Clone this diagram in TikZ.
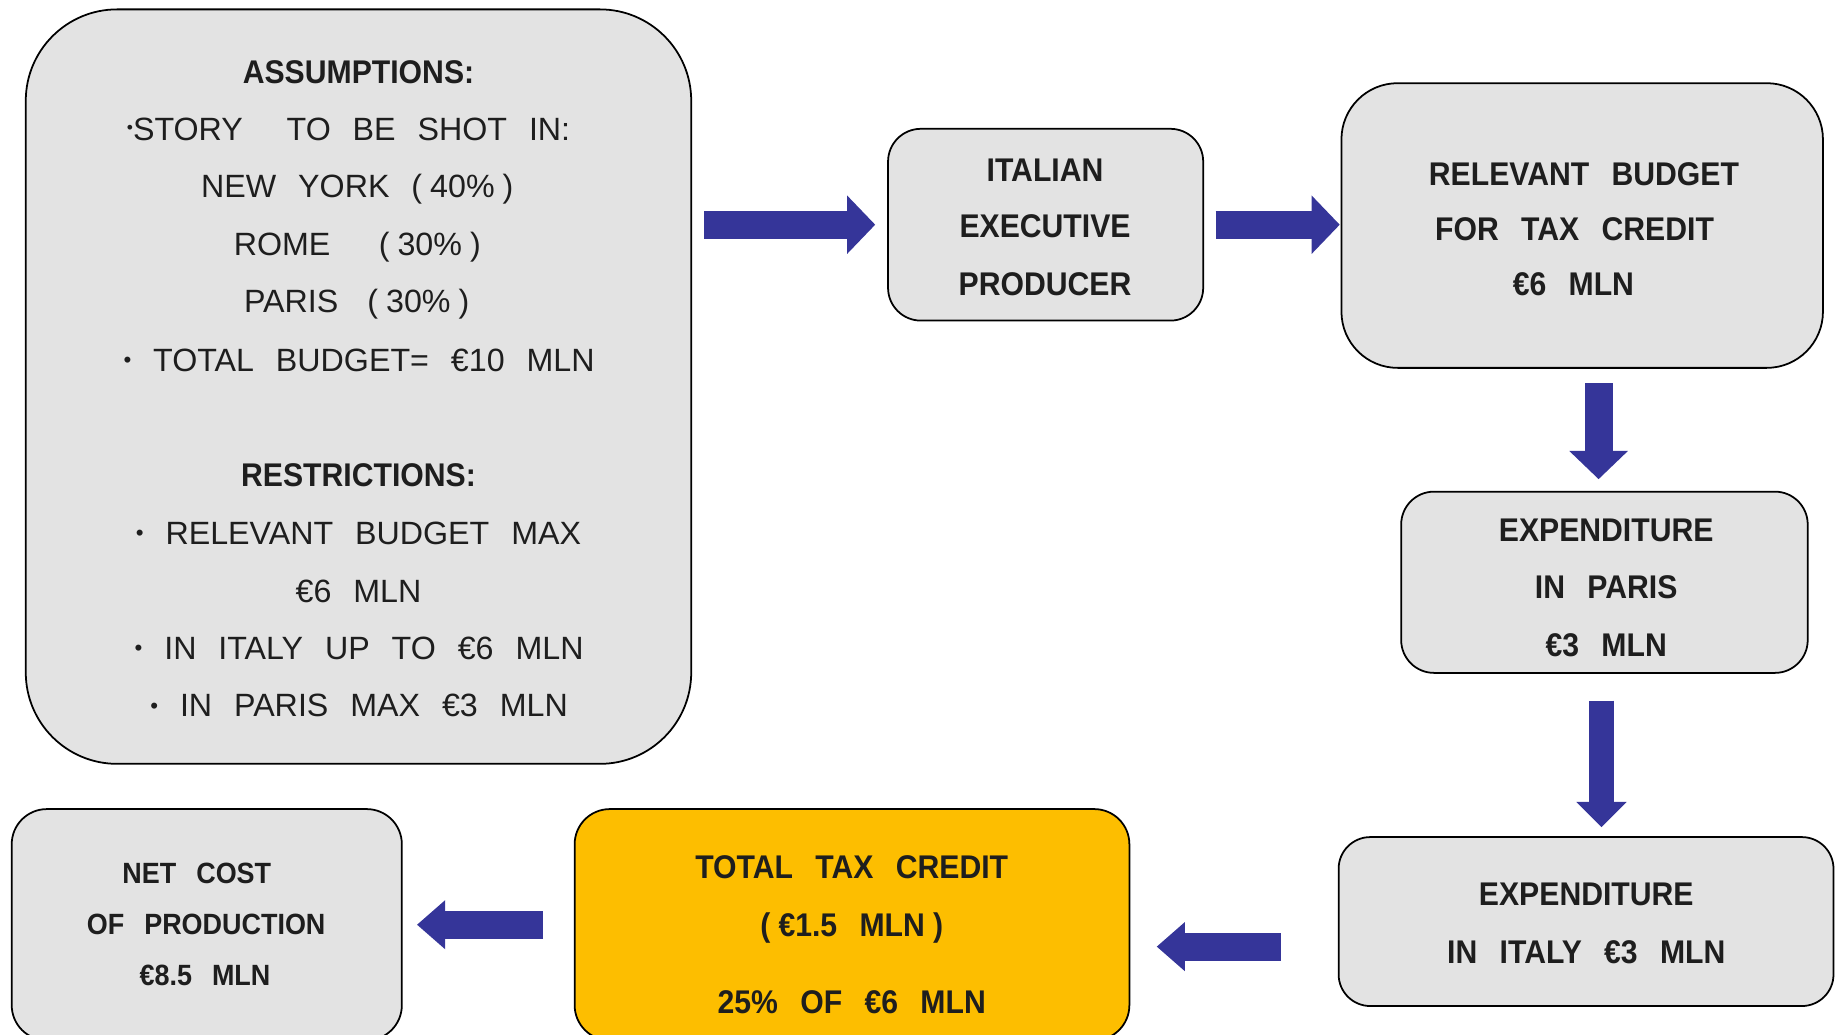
\documentclass[tikz,border=0pt]{standalone}
\usepackage{fontspec}
\setmainfont{Liberation Sans}
\newfontfamily\bfam[FakeStretch=0.92]{Liberation Sans}
\usetikzlibrary{arrows.meta,calc}
\definecolor{boxgray}{HTML}{E3E3E3}
\definecolor{arrowblue}{HTML}{353599}
\definecolor{gold}{HTML}{FDBE00}
\definecolor{ink}{HTML}{1E1E1E}
\newcommand\gp{\hspace{0.68em}}
\newcommand\hs{\hspace{0.25em}}
\newcommand\bul{\raisebox{3.2pt}{\fontsize{19}{19}\selectfont •}}
\newcommand\bulhi{\raisebox{6pt}{\fontsize{15}{15}\selectfont •}}
\begin{document}
\begin{tikzpicture}[x=1pt,y=-1pt,
 box/.style={draw=black, line width=1.5pt, fill=boxgray, inner sep=0pt, outer sep=0pt},
 reg/.style={inner sep=0pt, text height=19.7pt, text depth=0pt, text=ink, font=\fontsize{27.5}{31}\selectfont},
 bld/.style={inner sep=0pt, text height=20pt, text depth=0pt, text=ink, font=\bfam\bfseries\fontsize{28}{32}\selectfont},
 bldsm/.style={inner sep=0pt, text height=18pt, text depth=0pt, text=ink, font=\bfam\bfseries\fontsize{25}{30}\selectfont},
 barrow/.style={draw=arrowblue, line width=24pt, -{Triangle[width=50pt,length=24pt,line width=0pt]}},
 barrowb/.style={draw=arrowblue, line width=21pt, -{Triangle[width=43pt,length=21.5pt,line width=0pt]}},
 barrowc/.style={draw=arrowblue, line width=24pt, -{Triangle[width=42pt,length=24pt,line width=0pt]}},
]
\useasboundingbox (0,0) rectangle (1568,883);
\clip (0,0) rectangle (1568,883);

% boxes
\node[box, rounded corners=78pt, minimum width=568pt, minimum height=644pt] (assume) at (306,330) {};
\node[box, rounded corners=28pt, minimum width=269pt, minimum height=163.7pt] (ital) at (892.5,191.8) {};
\node[box, rounded corners=48pt, minimum width=411pt, minimum height=243pt] (relev) at (1350.5,192.5) {};
\node[box, rounded corners=28pt, minimum width=347pt, minimum height=154.7pt] (paris) at (1369.5,497) {};
\node[box, rounded corners=27pt, minimum width=422.4pt, minimum height=144.2pt] (italy) at (1353.8,786.6) {};
\node[box, fill=gold, rounded corners=30pt, minimum width=473.5pt, minimum height=197.4pt] (tax) at (727.25,789.3) {};
\node[box, rounded corners=30pt, minimum width=333pt, minimum height=197.4pt] (net) at (176.5,789.3) {};

% arrows
\draw[barrow, shorten <=11pt, shorten >=11pt] (assume.east |- ital.west) -- (ital.west);
\draw[barrow, shorten <=10.6pt, shorten >=1.5pt] (ital.east) -- (ital.east -| relev.west);
\draw[barrow, shorten <=13pt, shorten >=10.7pt] ($(relev.south -| paris.north)+(-5,0)$) -- ($(paris.north)+(-5,0)$);
\draw[barrowb, shorten <=23.6pt, shorten >=8.5pt] ($(paris.south)+(-2.5,0)$) -- ($(italy.north -| paris.south)+(-2.5,0)$);
\draw[barrowc, shorten <=49.6pt, shorten >=23.4pt] ($(italy.west)+(0,21.4)$) -- ($(tax.east |- italy.west)+(0,21.4)$);
\draw[barrowc, shorten <=27pt, shorten >=13pt] (tax.west) -- (tax.west -| net.east);

% assumptions text
\node[bld] (a1) at (306,61) {ASSUMPTIONS:};
\node[reg] (a2) at (297.5,110) {\bulhi STORY\gp\gp TO\gp BE\gp SHOT\gp IN:};
\node[reg] (a3) at (305,159) {NEW\gp YORK\gp(\hs 40\%\hs)};
\node[reg] (a4) at (305,208) {ROME\hspace{1.5em}(\hs 30\%\hs)};
\node[reg] (a5) at (304.5,257) {PARIS\hspace{0.9em}(\hs 30\%\hs)};
\node[reg] (a6) at (306.5,307) {\bul\gp TOTAL\gp BUDGET=\gp €10\gp MLN};
\node[bld] (a7) at (306,405) {RESTRICTIONS:};
\node[reg] (a8) at (306,455) {\bul\gp RELEVANT\gp BUDGET\gp MAX};
\node[reg] (a9) at (306,504) {€6\gp MLN};
\node[reg] (a10) at (306.5,553) {\bul\gp IN\gp ITALY\gp UP\gp TO\gp €6\gp MLN};
\node[reg] (a11) at (306.5,602) {\bul\gp IN\gp PARIS\gp MAX\gp €3\gp MLN};

% italian executive producer
\node[bld] (i1) at (892,145) {ITALIAN};
\node[bld] (i2) at (892,193) {EXECUTIVE};
\node[bld] (i3) at (892,242) {PRODUCER};

% relevant budget
\node[bld] (r1) at (1352,148) {RELEVANT\gp BUDGET};
\node[bld] (r2) at (1344,195) {FOR\gp TAX\gp CREDIT};
\node[bld] (r3) at (1343,242) {€6\gp MLN};

% paris
\node[bld] (p1) at (1371,452) {EXPENDITURE};
\node[bld] (p2) at (1371,501) {IN\gp PARIS};
\node[bld] (p3) at (1371,550) {€3\gp MLN};

% italy
\node[bld] (e1) at (1354,763) {EXPENDITURE};
\node[bld] (e2) at (1354,812) {IN\gp ITALY\gp €3\gp MLN};

% tax credit
\node[bld] (t1) at (727,740) {TOTAL\gp TAX\gp CREDIT};
\node[bld] (t2) at (727,789) {(\hs €1.5\gp MLN\hs)};
\node[bld] (t3) at (727,855) {25\%\gp OF\gp €6\gp MLN};

% net cost
\node[bldsm] (n1) at (168,745) {NET\gp COST};
\node[bldsm] (n2) at (176,789) {OF\gp PRODUCTION};
\node[bldsm] (n3) at (175,832) {€8.5\gp MLN};
\end{tikzpicture}
\end{document}
